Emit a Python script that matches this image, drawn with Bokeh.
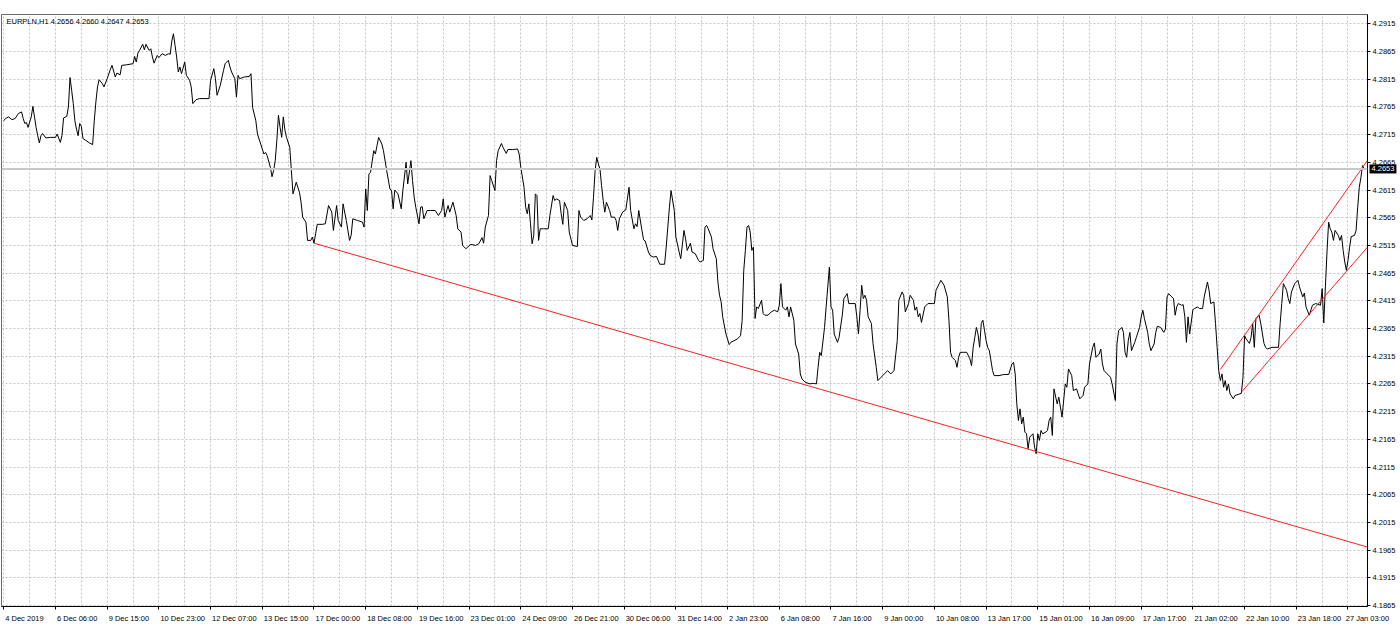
from bokeh.plotting import figure
from bokeh.models import (FixedTicker, Span, Label, Range1d, PrintfTickFormatter)
from bokeh.embed import file_html
from bokeh.resources import INLINE

# ---------------- data ----------------
symbol_info = "EURPLN,H1  4.2656 4.2660 4.2647 4.2653"
last_price = 4.2653

date_labels = ["4 Dec 2019", "6 Dec 06:00", "9 Dec 15:00", "10 Dec 23:00", "12 Dec 07:00",
               "13 Dec 15:00", "17 Dec 00:00", "18 Dec 08:00", "19 Dec 16:00", "23 Dec 01:00",
               "24 Dec 09:00", "26 Dec 21:00", "30 Dec 06:00", "31 Dec 14:00", "2 Jan 23:00",
               "6 Jan 08:00", "7 Jan 16:00", "9 Jan 00:00", "10 Jan 08:00", "13 Jan 17:00",
               "15 Jan 01:00", "16 Jan 09:00", "17 Jan 17:00", "21 Jan 02:00", "22 Jan 10:00",
               "23 Jan 18:00", "27 Jan 03:00"]
bars_per_label = 32

price_ticks = [4.1865, 4.1915, 4.1965, 4.2015, 4.2065, 4.2115, 4.2165, 4.2215, 4.2265,
               4.2315, 4.2365, 4.2415, 4.2465, 4.2515, 4.2565, 4.2615, 4.2665, 4.2715,
               4.2765, 4.2815, 4.2865, 4.2915]

bar_idx = [0, 1, 3, 5, 7, 9, 11, 12, 13, 14, 15, 17, 18, 19, 20, 21, 22, 23, 24, 26, 29, 32, 33, 35, 36,
           37, 39, 40, 41, 42, 43, 44, 45, 46, 47, 48, 49, 51, 53, 55, 56, 57, 58, 59, 61, 62, 64, 66,
           67, 69, 70, 72, 73, 76, 80, 81, 82, 83, 84, 86, 87, 88, 90, 91, 92, 93, 95, 96, 98, 100,
           102, 103, 104, 105, 106, 107, 108, 109, 110, 112, 113, 115, 116, 117, 119, 121, 124, 127,
           128, 130, 131, 132, 134, 136, 137, 139, 140, 141, 143, 144, 145, 146, 149, 152, 153, 154,
           156, 157, 159, 161, 162, 163, 165, 166, 167, 168, 169, 170, 171, 172, 173, 174, 175, 177,
           178, 179, 181, 183, 184, 185, 187, 188, 190, 191, 192, 193, 194, 197, 199, 201, 203, 204,
           206, 207, 209, 210, 212, 214, 215, 216, 219, 222, 223, 224, 225, 226, 227, 229, 230, 231,
           232, 234, 235, 237, 239, 240, 241, 242, 244, 246, 247, 249, 250, 252, 253, 254, 255, 257,
           258, 259, 260, 262, 264, 267, 269, 271, 272, 273, 275, 276, 278, 280, 281, 283, 284, 286,
           289, 292, 294, 296, 297, 298, 300, 301, 302, 304, 305, 306, 308, 309, 311, 312, 315, 318,
           319, 320, 322, 323, 324, 325, 326, 327, 328, 329, 330, 331, 332, 334, 337, 338, 340, 341,
           342, 344, 345, 346, 347, 349, 350, 352, 355, 356, 357, 359, 361, 363, 364, 365, 366, 367,
           368, 369, 370, 371, 372, 373, 375, 376, 378, 379, 380, 381, 383, 385, 387, 388, 390, 391,
           392, 393, 395, 396, 397, 399, 400, 402, 404, 405, 406, 409, 410, 411, 412, 413, 415, 416,
           418, 419, 421, 422, 423, 425, 426, 428, 430, 431, 433, 434, 435, 436, 438, 439, 441, 442,
           443, 444, 445, 447, 449, 450, 452, 454, 456, 457, 458, 459, 460, 461, 462, 463, 464, 465,
           466, 467, 469, 470, 471, 473, 475, 477, 479, 480, 481, 482, 484, 485, 486, 487, 489, 490,
           492, 493, 494, 496, 499, 501, 503, 504, 505, 506, 508, 509, 511, 512, 513, 514, 516, 517,
           519, 520, 522, 523, 527, 528, 529, 530, 531, 532, 533, 534, 535, 537, 538, 540, 541, 543,
           545, 547, 549, 551, 553, 554, 556, 557, 558, 560, 561, 563, 564, 565, 566, 567, 568, 570,
           572, 575, 576, 577, 579, 580, 582, 584, 585, 586, 587, 589, 590, 591, 592, 594, 596, 598,
           599, 600, 601, 602, 603, 604, 605, 606, 607, 608, 609, 610, 612, 613, 616, 619, 622, 624,
           625, 626, 627, 628, 629, 630, 631, 632, 633, 634, 635, 637, 638, 639, 640, 641, 642, 643,
           645, 646, 647, 648, 649, 650, 652, 653, 655, 657, 658, 659, 661, 662, 664, 666, 668, 669,
           671, 672, 674, 675, 676, 678, 679, 680, 681, 683, 685, 686, 688, 689, 690, 692, 693, 694,
           695, 696, 697, 698, 700, 701, 703, 704, 705, 706, 708, 709, 710, 712, 713, 714, 716, 718,
           719, 720, 721, 723, 724, 725, 726, 727, 729, 730, 731, 732, 733, 734, 736, 737, 739, 740,
           742, 743, 745, 746, 747, 749, 750, 751, 752, 753, 754, 755, 756, 757, 758, 759, 761, 762,
           764, 766, 767, 768, 769, 771, 772, 773, 774, 775, 777, 778, 780, 781, 782, 785, 789, 790,
           791, 792, 794, 795, 796, 797, 799, 801, 802, 804, 805, 806, 808, 810, 812, 815, 816, 817,
           818, 819, 820, 821, 822, 823, 824, 826, 827, 828, 829, 830, 831, 832, 833, 834, 836, 837,
           838, 839, 840, 841, 842]

close = [4.2740, 4.2744, 4.2747, 4.2742, 4.2744, 4.2753, 4.2756, 4.2744, 4.2735, 4.2737, 4.2728,
         4.2747, 4.2766, 4.2747, 4.2728, 4.2713, 4.2700, 4.2713, 4.2717, 4.2709, 4.2710, 4.2710,
         4.2716, 4.2701, 4.2713, 4.2745, 4.2748, 4.2765, 4.2818, 4.2795, 4.2771, 4.2740, 4.2725,
         4.2713, 4.2735, 4.2730, 4.2708, 4.2704, 4.2700, 4.2697, 4.2740, 4.2774, 4.2801, 4.2814,
         4.2807, 4.2801, 4.2816, 4.2833, 4.2840, 4.2819, 4.2826, 4.2823, 4.2840, 4.2841, 4.2843,
         4.2856, 4.2846, 4.2862, 4.2867, 4.2878, 4.2868, 4.2878, 4.2867, 4.2870, 4.2855, 4.2844,
         4.2858, 4.2854, 4.2861, 4.2858, 4.2861, 4.2860, 4.2884, 4.2897, 4.2876, 4.2855, 4.2828,
         4.2837, 4.2825, 4.2846, 4.2822, 4.2813, 4.2801, 4.2771, 4.2778, 4.2780, 4.2780, 4.2780,
         4.2813, 4.2834, 4.2816, 4.2786, 4.2804, 4.2831, 4.2843, 4.2849, 4.2837, 4.2828, 4.2816,
         4.2783, 4.2822, 4.2816, 4.2819, 4.2820, 4.2825, 4.2764, 4.2740, 4.2716, 4.2698, 4.2680,
         4.2683, 4.2677, 4.2656, 4.2639, 4.2650, 4.2668, 4.2704, 4.2750, 4.2728, 4.2710, 4.2747,
         4.2723, 4.2710, 4.2692, 4.2650, 4.2608, 4.2629, 4.2611, 4.2593, 4.2566, 4.2557, 4.2524,
         4.2524, 4.2530, 4.2519, 4.2536, 4.2553, 4.2553, 4.2554, 4.2587, 4.2575, 4.2542, 4.2587,
         4.2560, 4.2548, 4.2590, 4.2560, 4.2524, 4.2533, 4.2563, 4.2560, 4.2557, 4.2548, 4.2617,
         4.2578, 4.2644, 4.2647, 4.2686, 4.2680, 4.2695, 4.2710, 4.2698, 4.2686, 4.2650, 4.2617,
         4.2614, 4.2581, 4.2615, 4.2608, 4.2581, 4.2614, 4.2665, 4.2626, 4.2668, 4.2632, 4.2602,
         4.2584, 4.2554, 4.2584, 4.2585, 4.2563, 4.2578, 4.2578, 4.2578, 4.2569, 4.2578, 4.2599,
         4.2566, 4.2587, 4.2575, 4.2593, 4.2569, 4.2545, 4.2539, 4.2515, 4.2509, 4.2517, 4.2515,
         4.2518, 4.2529, 4.2519, 4.2548, 4.2569, 4.2641, 4.2632, 4.2614, 4.2668, 4.2686, 4.2699,
         4.2692, 4.2681, 4.2688, 4.2688, 4.2689, 4.2680, 4.2656, 4.2620, 4.2584, 4.2572, 4.2590,
         4.2554, 4.2518, 4.2533, 4.2608, 4.2605, 4.2524, 4.2545, 4.2545, 4.2545, 4.2569, 4.2605,
         4.2596, 4.2599, 4.2596, 4.2572, 4.2553, 4.2593, 4.2578, 4.2539, 4.2515, 4.2513, 4.2578,
         4.2566, 4.2560, 4.2563, 4.2569, 4.2561, 4.2602, 4.2650, 4.2674, 4.2662, 4.2653, 4.2623,
         4.2596, 4.2575, 4.2593, 4.2578, 4.2566, 4.2566, 4.2560, 4.2542, 4.2563, 4.2575, 4.2579,
         4.2620, 4.2578, 4.2545, 4.2554, 4.2549, 4.2578, 4.2542, 4.2525, 4.2523, 4.2503, 4.2497,
         4.2494, 4.2495, 4.2488, 4.2481, 4.2481, 4.2512, 4.2548, 4.2584, 4.2614, 4.2578, 4.2530,
         4.2503, 4.2491, 4.2542, 4.2527, 4.2506, 4.2519, 4.2503, 4.2500, 4.2488, 4.2485, 4.2488,
         4.2548, 4.2551, 4.2545, 4.2530, 4.2509, 4.2491, 4.2449, 4.2425, 4.2413, 4.2385, 4.2355,
         4.2336, 4.2340, 4.2343, 4.2346, 4.2352, 4.2379, 4.2470, 4.2506, 4.2548, 4.2551, 4.2539,
         4.2506, 4.2512, 4.2383, 4.2404, 4.2401, 4.2416, 4.2392, 4.2389, 4.2389, 4.2395, 4.2398,
         4.2395, 4.2407, 4.2446, 4.2404, 4.2398, 4.2404, 4.2386, 4.2404, 4.2380, 4.2337, 4.2319,
         4.2283, 4.2274, 4.2268, 4.2265, 4.2266, 4.2265, 4.2295, 4.2322, 4.2316, 4.2367, 4.2404,
         4.2476, 4.2404, 4.2398, 4.2355, 4.2340, 4.2349, 4.2389, 4.2419, 4.2428, 4.2410, 4.2410,
         4.2386, 4.2355, 4.2398, 4.2443, 4.2419, 4.2425, 4.2416, 4.2386, 4.2374, 4.2338, 4.2295,
         4.2271, 4.2277, 4.2283, 4.2289, 4.2283, 4.2289, 4.2343, 4.2416, 4.2431, 4.2425, 4.2395,
         4.2410, 4.2425, 4.2416, 4.2398, 4.2404, 4.2386, 4.2392, 4.2376, 4.2404, 4.2410, 4.2410,
         4.2410, 4.2434, 4.2446, 4.2452, 4.2443, 4.2422, 4.2380, 4.2322, 4.2313, 4.2307, 4.2295,
         4.2313, 4.2322, 4.2322, 4.2322, 4.2310, 4.2298, 4.2331, 4.2349, 4.2367, 4.2355, 4.2331,
         4.2374, 4.2380, 4.2362, 4.2343, 4.2331, 4.2325, 4.2289, 4.2280, 4.2280, 4.2282, 4.2282,
         4.2301, 4.2304, 4.2283, 4.2229, 4.2199, 4.2220, 4.2193, 4.2205, 4.2178, 4.2175, 4.2148,
         4.2169, 4.2175, 4.2151, 4.2139, 4.2175, 4.2163, 4.2181, 4.2175, 4.2178, 4.2181, 4.2199,
         4.2205, 4.2172, 4.2256, 4.2229, 4.2241, 4.2205, 4.2265, 4.2259, 4.2292, 4.2280, 4.2253,
         4.2256, 4.2238, 4.2244, 4.2259, 4.2265, 4.2301, 4.2331, 4.2339, 4.2313, 4.2319, 4.2328,
         4.2301, 4.2289, 4.2283, 4.2277, 4.2265, 4.2235, 4.2337, 4.2361, 4.2367, 4.2358, 4.2322,
         4.2313, 4.2343, 4.2358, 4.2325, 4.2340, 4.2349, 4.2367, 4.2386, 4.2398, 4.2383, 4.2358,
         4.2337, 4.2325, 4.2337, 4.2358, 4.2369, 4.2367, 4.2358, 4.2364, 4.2422, 4.2428, 4.2422,
         4.2419, 4.2389, 4.2404, 4.2410, 4.2407, 4.2408, 4.2386, 4.2340, 4.2386, 4.2355, 4.2399,
         4.2401, 4.2404, 4.2401, 4.2401, 4.2422, 4.2449, 4.2434, 4.2410, 4.2413, 4.2374, 4.2331,
         4.2289, 4.2271, 4.2283, 4.2259, 4.2271, 4.2253, 4.2265, 4.2247, 4.2238, 4.2244, 4.2246,
         4.2248, 4.2277, 4.2352, 4.2346, 4.2338, 4.2349, 4.2374, 4.2331, 4.2383, 4.2389, 4.2374,
         4.2338, 4.2331, 4.2328, 4.2331, 4.2331, 4.2374, 4.2410, 4.2446, 4.2434, 4.2419, 4.2410,
         4.2431, 4.2446, 4.2452, 4.2440, 4.2422, 4.2429, 4.2404, 4.2389, 4.2407, 4.2410, 4.2407,
         4.2437, 4.2375, 4.2440, 4.2503, 4.2557, 4.2545, 4.2539, 4.2524, 4.2542, 4.2533, 4.2524,
         4.2533, 4.2506, 4.2485, 4.2470, 4.2488, 4.2512, 4.2531, 4.2533, 4.2542, 4.2584, 4.2620,
         4.2638, 4.2659, 4.2653]

# trend lines: two anchor points (bar, price), drawn as rays to the right edge
support_bars = [192, 639]
support_prices = [4.2519, 4.2143]
channel_top_bars = [753, 842]
channel_top_prices = [4.2291, 4.2660]
channel_bottom_bars = [766, 831]
channel_bottom_prices = [4.2250, 4.2468]

# ---------------- figure ----------------
X0, X1 = -1.42, 844.07
Y0, Y1 = 4.18632, 4.29318
FONT = "Liberation Sans"
FSIZE = "7.5px"
FPX = 7.5
W, H = 1400, 626
BL, BR, BT, BB = 1, 33, 14, 20   # frame borders (px)

p = figure(width=W, height=H, output_backend="svg", toolbar_location=None,
           x_range=Range1d(X0, X1), y_range=Range1d(Y0, Y1),
           y_axis_location="right", min_border_left=BL, min_border_top=BT,
           min_border_right=BR, min_border_bottom=BB)
p.background_fill_color = "white"
p.border_fill_color = "white"
p.outline_line_color = "#6a6a6a"
p.outline_line_width = 1

label_ticks = [bars_per_label * k for k in range(len(date_labels))]
grid_minor = [bars_per_label * k + bars_per_label // 2 for k in range(len(date_labels))]

# MT4 writes the date to the right of its tick: shift each (centred) label
# by half its width so its left edge sits at the tick (kept inside the range).
_cw = {" ": 0.278, ":": 0.278, "D": 0.722, "e": 0.556, "c": 0.5,
       "J": 0.5, "a": 0.556, "n": 0.556}
bars_per_px = (X1 - X0) / (W - BL - BR)
label_pos = []
for t, lab in zip(label_ticks, date_labels):
    wpx = sum(_cw.get(ch, 0.556) for ch in lab) * FPX
    label_pos.append(min(t + (wpx / 2 + 1.5) * bars_per_px, X1 - 0.05))

# x axis
p.xaxis.ticker = FixedTicker(ticks=label_pos, minor_ticks=label_ticks)
p.xaxis.major_label_overrides = {pos: lab for pos, lab in zip(label_pos, date_labels)}
p.xaxis.major_label_text_font = FONT
p.xaxis.major_label_text_font_size = FSIZE
p.xaxis.major_label_text_color = "black"
p.xaxis.major_label_standoff = 4
p.xaxis.major_tick_out = 0
p.xaxis.major_tick_in = 0
p.xaxis.minor_tick_out = 3
p.xaxis.minor_tick_in = 0
p.xaxis.minor_tick_line_color = "black"
p.xaxis.axis_line_color = "black"

# y axis
p.yaxis.ticker = FixedTicker(ticks=price_ticks)
p.yaxis.formatter = PrintfTickFormatter(format="%.4f")
p.yaxis.major_label_text_font = FONT
p.yaxis.major_label_text_font_size = FSIZE
p.yaxis.major_label_text_color = "black"
p.yaxis.major_tick_out = 3
p.yaxis.major_tick_in = 0
p.yaxis.minor_tick_out = 0
p.yaxis.minor_tick_in = 0
p.yaxis.major_label_standoff = 2
p.yaxis.axis_line_color = "black"
p.yaxis.major_tick_line_color = "black"

# grids
p.xgrid.ticker = FixedTicker(ticks=label_ticks, minor_ticks=grid_minor)
for g in (p.xgrid, p.ygrid):
    g.grid_line_color = "#c4c4c4"
    g.grid_line_dash = "2 2"
    g.grid_line_width = 1
p.xgrid.minor_grid_line_color = "#c4c4c4"
p.xgrid.minor_grid_line_dash = "2 2"

# bid line
p.add_layout(Span(location=last_price, dimension="width", line_color="#c8c8c8", line_width=2))

# price line
p.line(bar_idx, close, line_color="black", line_width=1)

# trend lines (rays)
def ray(bx, py):
    slope = (py[1] - py[0]) / (bx[1] - bx[0])
    return [bx[0], X1 + 1], [py[0], py[0] + slope * (X1 + 1 - bx[0])]

for bx, py in ((support_bars, support_prices),
               (channel_top_bars, channel_top_prices),
               (channel_bottom_bars, channel_bottom_prices)):
    xs, ys = ray(bx, py)
    p.line(xs, ys, line_color="#ff2020", line_width=1)

# title
p.add_layout(Label(x=X0, y=Y1, x_offset=5, y_offset=-2, text=symbol_info,
                   text_align="left", text_baseline="top", text_font=FONT,
                   text_font_size=FSIZE, text_color="black"))

# current price tag beside the price axis; lives in a side panel so it is
# not clipped to the frame (it is drawn at its data position)
tag = Label(x=X1, y=last_price, x_offset=2, text=f"{last_price:.4f}",
            text_align="left", text_baseline="middle", text_font=FONT,
            text_font_size=FSIZE, text_color="white",
            background_fill_color="black")
try:
    tag.padding = 2
except Exception:
    pass
p.add_layout(tag, "above")

open("out.html", "w").write(file_html(p, INLINE))
